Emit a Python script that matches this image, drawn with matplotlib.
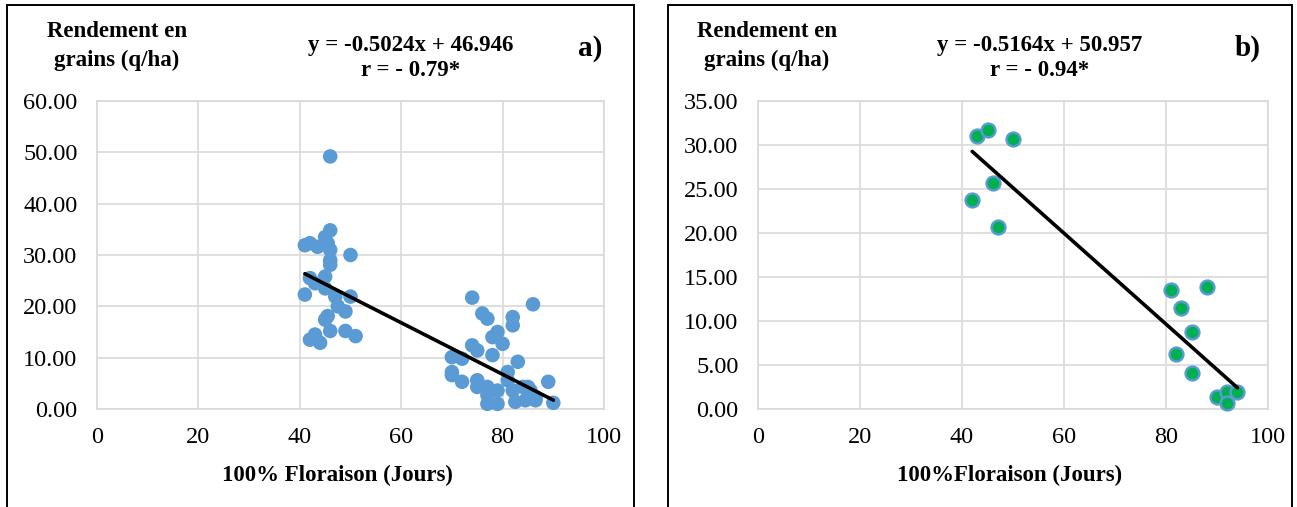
import matplotlib.pyplot as plt
from matplotlib.patches import Rectangle
import numpy as np

# panel a) : all samples
flor_a = [46, 46, 45, 41, 42, 43.5, 45.5, 46, 46, 46, 50, 42, 43, 45, 45, 41,
          47, 50, 49, 47.5, 45.5, 45, 46, 49, 51, 42, 43, 44,
          74, 86, 76, 77, 82, 82, 79, 78, 80, 74, 75, 78, 70, 72, 83, 70, 81,
          72, 75, 89, 77, 79, 82, 85, 77, 79, 82.5, 86.5, 90, 84, 85.5, 84.5,
          86.5, 70, 75, 77, 81]
rend_a = [49.2, 34.8, 33.5, 31.9, 32.3, 31.6, 32.3, 31.0, 29.0, 28.1, 30.0, 25.5,
          24.5, 25.8, 23.5, 22.3, 21.9, 21.9, 19.0, 20.0, 18.1, 17.4, 15.2, 15.2,
          14.2, 13.5, 14.5, 12.9,
          21.7, 20.4, 18.6, 17.6, 17.9, 16.3, 15.0, 14.0, 12.7, 12.4, 11.4, 10.5,
          10.1, 9.8, 9.2, 7.2, 7.2, 5.3, 5.6, 5.3, 4.3, 3.6, 3.6, 4.3, 1.0, 1.0,
          1.4, 2.3, 1.2, 4.3, 3.6, 1.7, 1.7, 6.6, 4.3, 2.7, 5.6]

# panel b) : means
flor_b = [43, 45, 50, 46, 42, 47, 81, 88, 83, 85, 82, 85, 90, 92, 92, 94]
rend_b = [31.0, 31.7, 30.7, 25.7, 23.8, 20.7, 13.5, 13.9, 11.5, 8.8, 6.3, 4.1,
          1.4, 1.9, 0.7, 1.9]

slopes = [-0.5024, -0.5164]
intercepts = [46.946, 50.957]
r_values = ["- 0.79*", "- 0.94*"]
panel_tags = ["a)", "b)"]
xlabels = ["100% Floraison (Jours)", "100%Floraison (Jours)"]
ylabel = "Rendement en\ngrains (q/ha)"
ymax = [60, 35]
ystep = [10, 5]

plt.rcParams["font.family"] = ["Liberation Serif", "DejaVu Serif"]

W, H = 1297, 507
fig = plt.figure(figsize=(W / 100, H / 100), dpi=100)

# outer frames of the two panels
for x0, x1 in [(7, 634), (668, 1292)]:
    fig.patches.append(Rectangle((x0 / W, -0.05), (x1 - x0) / W, 1.04,
                                 transform=fig.transFigure, fill=False,
                                 edgecolor="black", linewidth=1.4))

# plot areas in pixels: left, right, top, bottom
boxes = [(97, 604, 101, 409), (758, 1268, 101, 409)]
# text anchors in pixels: y-title x, equation x, tag x, xlabel x
anchors = [(117, 411, 590, 337), (767, 1040, 1248, 1010)]

data = [(flor_a, rend_a), (flor_b, rend_b)]
styles = [dict(s=110, color="#5B9BD5", edgecolors="none"),
          dict(s=100, color="#00B050", edgecolors="#5B9BD5", linewidths=1.7)]

for i in range(2):
    l, r, t, b = boxes[i]
    ax = fig.add_axes([l / W, 1 - b / H, (r - l) / W, (b - t) / H])
    fx, ry = data[i]
    ax.scatter(fx, ry, zorder=3, clip_on=False, **styles[i])

    xs = np.array([min(fx), max(fx)])
    ax.plot(xs, slopes[i] * xs + intercepts[i], color="black", lw=2.6,
            solid_capstyle="round", zorder=4)

    ax.set_xlim(0, 100)
    ax.set_ylim(0, ymax[i])
    ax.set_xticks(range(0, 101, 20))
    ax.set_yticks(np.arange(0, ymax[i] + 0.1, ystep[i]))
    ax.set_yticklabels([f"{v:.2f}" for v in ax.get_yticks()])
    ax.grid(True, color="#D9D9D9", linewidth=1.2)
    ax.set_axisbelow(True)
    for sp in ax.spines.values():
        sp.set_color("#D9D9D9")
        sp.set_linewidth(1.2)
    ax.tick_params(length=0, labelsize=17.5)
    ax.tick_params(axis="y", pad=14)
    ax.tick_params(axis="x", pad=13)

    ty, eq, tag, xl = anchors[i]
    fig.text(ty / W, 1 - 46 / H, ylabel, ha="center", va="center",
             fontsize=16.5, fontweight="bold", linespacing=1.45)
    fig.text(eq / W, 1 - 58 / H,
             f"y = {slopes[i]}x + {intercepts[i]}\nr = {r_values[i]}",
             ha="center", va="center", fontsize=16.5, fontweight="bold",
             linespacing=1.3)
    fig.text(tag / W, 1 - 48 / H, panel_tags[i], ha="center", va="center",
             fontsize=21, fontweight="bold")
    fig.text(xl / W, 1 - 475 / H, xlabels[i], ha="center", va="center",
             fontsize=16.5, fontweight="bold")

plt.savefig("out.png", dpi=100)
